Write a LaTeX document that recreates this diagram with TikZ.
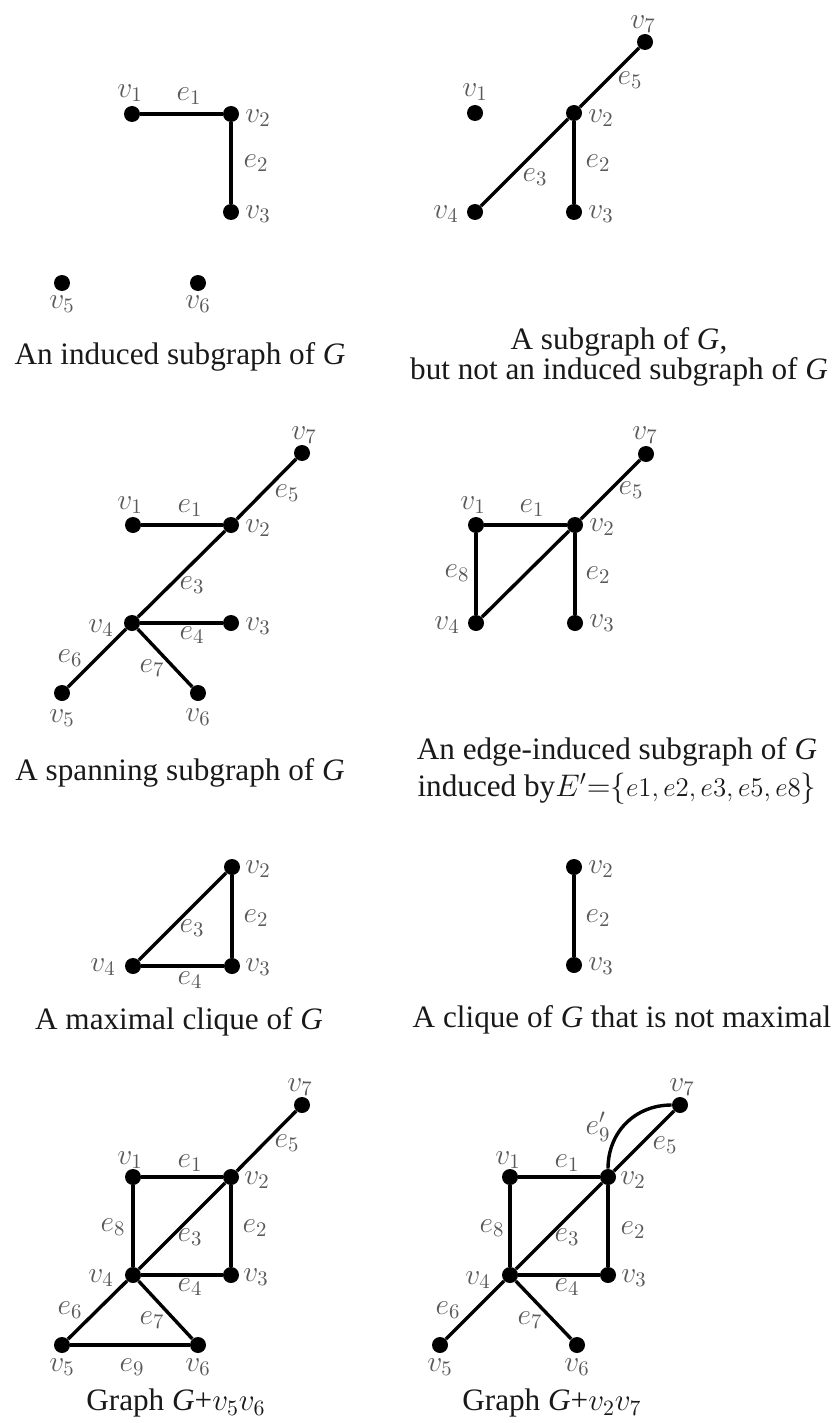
\RequirePackage{fix-cm}
\documentclass[tikz,border=0pt]{standalone}
\usepackage[no-math]{fontspec}
\setmainfont{Liberation Serif}
\tikzset{
  vtx/.style={circle, fill=black, inner sep=0pt, minimum size=8pt},
  edge/.style={line width=1.7pt},
  lab/.style={text=black!65, font=\fontsize{14.8}{16}\selectfont, inner sep=0pt},
  captxt/.style={text=black!90, font=\fontsize{15.6}{15}\selectfont, inner sep=0pt, align=center},
}
\begin{document}
\begin{tikzpicture}[x=0.5pt, y=-0.5pt]
\useasboundingbox (0,0) rectangle (836,1423);
% ---------- Panel 1: induced subgraph
\node[vtx] (a1) at (132,114) {};
\node[vtx] (a2) at (231,114) {};
\node[vtx] (a3) at (231,212) {};
\node[vtx] (a5) at (62,283) {};
\node[vtx] (a6) at (198,283) {};
\draw[edge] (a1) -- (a2);
\draw[edge] (a2) -- (a3);
\node[lab] (a1l) at (130,93) {$v_1$};
\node[lab] (ae1) at (189,96) {$e_1$};
\node[lab] (a2l) at (258,118) {$v_2$};
\node[lab] (ae2) at (256,163) {$e_2$};
\node[lab] (a3l) at (258,214) {$v_3$};
\node[lab] (a5l) at (62,304) {$v_5$};
\node[lab] (a6l) at (198,304) {$v_6$};
\node[captxt] (acap) at (180,357) {An induced subgraph of \textit{G}};
% ---------- Panel 2: subgraph, not induced
\node[vtx] (b7) at (645,42) {};
\node[vtx] (b1) at (475,113) {};
\node[vtx] (b2) at (574,113) {};
\node[vtx] (b4) at (475,212) {};
\node[vtx] (b3) at (574,212) {};
\draw[edge] (b4) -- (b2);
\draw[edge] (b2) -- (b7);
\draw[edge] (b2) -- (b3);
\node[lab] (b7l) at (643,24) {$v_7$};
\node[lab] (b1l) at (475,92) {$v_1$};
\node[lab] (be5) at (630,80) {$e_5$};
\node[lab] (b2l) at (601,118) {$v_2$};
\node[lab] (be2) at (598,163) {$e_2$};
\node[lab] (be3) at (535,177) {$e_3$};
\node[lab] (b4l) at (446,214) {$v_4$};
\node[lab] (b3l) at (601,214) {$v_3$};
\node[captxt] (bcap) at (619,357) {A subgraph of \textit{G},\\but not an induced subgraph of \textit{G}};
% ---------- Panel 3: spanning subgraph
\node[vtx] (c7) at (302,453) {};
\node[vtx] (c1) at (133,525) {};
\node[vtx] (c2) at (231,525) {};
\node[vtx] (c4) at (132,623) {};
\node[vtx] (c3) at (231,623) {};
\node[vtx] (c5) at (62,693) {};
\node[vtx] (c6) at (198,693) {};
\draw[edge] (c1) -- (c2);
\draw[edge] (c2) -- (c7);
\draw[edge] (c2) -- (c4);
\draw[edge] (c4) -- (c3);
\draw[edge] (c4) -- (c5);
\draw[edge] (c4) -- (c6);
\node[lab] (c7l) at (304,435) {$v_7$};
\node[lab] (c1l) at (130,505) {$v_1$};
\node[lab] (ce1) at (190,508) {$e_1$};
\node[lab] (ce5) at (287,493) {$e_5$};
\node[lab] (c2l) at (258,528) {$v_2$};
\node[lab] (ce3) at (192,585) {$e_3$};
\node[lab] (c4l) at (101,628) {$v_4$};
\node[lab] (c3l) at (258,626) {$v_3$};
\node[lab] (ce4) at (192,635) {$e_4$};
\node[lab] (ce6) at (70,658) {$e_6$};
\node[lab] (ce7) at (152,668) {$e_7$};
\node[lab] (c5l) at (62,718) {$v_5$};
\node[lab] (c6l) at (198,717) {$v_6$};
\node[captxt] (ccap) at (180,773) {A spanning subgraph of \textit{G}};
% ---------- Panel 4: edge-induced subgraph
\node[vtx] (d7) at (646,454) {};
\node[vtx] (d1) at (476,525) {};
\node[vtx] (d2) at (575,525) {};
\node[vtx] (d4) at (476,623) {};
\node[vtx] (d3) at (575,623) {};
\draw[edge] (d1) -- (d2);
\draw[edge] (d1) -- (d4);
\draw[edge] (d4) -- (d2);
\draw[edge] (d2) -- (d7);
\draw[edge] (d2) -- (d3);
\node[lab] (d7l) at (645,435) {$v_7$};
\node[lab] (de5) at (631,490) {$e_5$};
\node[lab] (d1l) at (473,505) {$v_1$};
\node[lab] (de1) at (532,508) {$e_1$};
\node[lab] (d2l) at (602,527) {$v_2$};
\node[lab] (de8) at (457,573) {$e_8$};
\node[lab] (de2) at (598,575) {$e_2$};
\node[lab] (d4l) at (447,625) {$v_4$};
\node[lab] (d3l) at (602,623) {$v_3$};
\node[captxt] (dcap) at (617,771) {An edge-induced subgraph of \textit{G}\\[2.5pt]induced by$E'{=}\{$\mbox{\fontsize{13.5}{16}\selectfont$e1, e2, e3, e5, e8$}$\}$};
% ---------- Panel 5: maximal clique
\node[vtx] (m2) at (232,867) {};
\node[vtx] (m4) at (133,966) {};
\node[vtx] (m3) at (232,966) {};
\draw[edge] (m4) -- (m2);
\draw[edge] (m2) -- (m3);
\draw[edge] (m3) -- (m4);
\node[lab] (m2l) at (258,869) {$v_2$};
\node[lab] (me2) at (256,918) {$e_2$};
\node[lab] (me3) at (192,928) {$e_3$};
\node[lab] (m4l) at (103,967) {$v_4$};
\node[lab] (m3l) at (258,967) {$v_3$};
\node[lab] (me4) at (190,980) {$e_4$};
\node[captxt] (mcap) at (179,1022) {A maximal clique of \textit{G}};
% ---------- Panel 6: non-maximal clique
\node[vtx] (n2) at (574,867) {};
\node[vtx] (n3) at (574,965) {};
\draw[edge] (n2) -- (n3);
\node[lab] (n2l) at (601,869) {$v_2$};
\node[lab] (ne2) at (598,918) {$e_2$};
\node[lab] (n3l) at (601,966) {$v_3$};
\node[captxt] (ncap) at (622,1020) {A clique of \textit{G} that is not maximal};
% ---------- Panel 7: G + v5v6
\node[vtx] (g7) at (302,1105) {};
\node[vtx] (g1) at (133,1177) {};
\node[vtx] (g2) at (231,1177) {};
\node[vtx] (g4) at (133,1275) {};
\node[vtx] (g3) at (231,1275) {};
\node[vtx] (g5) at (62,1345) {};
\node[vtx] (g6) at (198,1345) {};
\draw[edge] (g1) -- (g2);
\draw[edge] (g1) -- (g4);
\draw[edge] (g2) -- (g3);
\draw[edge] (g4) -- (g3);
\draw[edge] (g4) -- (g2);
\draw[edge] (g2) -- (g7);
\draw[edge] (g4) -- (g5);
\draw[edge] (g4) -- (g6);
\draw[edge] (g5) -- (g6);
\node[lab] (g7l) at (300,1087) {$v_7$};
\node[lab] (ge5) at (287,1143) {$e_5$};
\node[lab] (g1l) at (130,1160) {$v_1$};
\node[lab] (ge1) at (190,1163) {$e_1$};
\node[lab] (g2l) at (257,1180) {$v_2$};
\node[lab] (ge8) at (113,1227) {$e_8$};
\node[lab] (ge3) at (190,1237) {$e_3$};
\node[lab] (ge2) at (255,1228) {$e_2$};
\node[lab] (g4l) at (101,1278) {$v_4$};
\node[lab] (g3l) at (256,1277) {$v_3$};
\node[lab] (ge4) at (190,1287) {$e_4$};
\node[lab] (ge6) at (70,1310) {$e_6$};
\node[lab] (ge7) at (152,1320) {$e_7$};
\node[lab] (g5l) at (62,1367) {$v_5$};
\node[lab] (ge9) at (132,1367) {$e_9$};
\node[lab] (g6l) at (198,1367) {$v_6$};
\node[captxt] (gcap) at (176,1403) {Graph \textit{G}+$v_5v_6$};
% ---------- Panel 8: G + v2v7
\node[vtx] (h7) at (680,1105) {};
\node[vtx] (h1) at (510,1177) {};
\node[vtx] (h2) at (608,1177) {};
\node[vtx] (h4) at (510,1275) {};
\node[vtx] (h3) at (608,1275) {};
\node[vtx] (h5) at (440,1345) {};
\node[vtx] (h6) at (577,1345) {};
\draw[edge] (h1) -- (h2);
\draw[edge] (h1) -- (h4);
\draw[edge] (h2) -- (h3);
\draw[edge] (h4) -- (h3);
\draw[edge] (h4) -- (h2);
\draw[edge] (h2) -- (h7);
\draw[edge] (h4) -- (h5);
\draw[edge] (h4) -- (h6);
\draw[edge] (h2) .. controls +(0,-45) and +(-45,0) .. (h7);
\node[lab] (h7l) at (682,1087) {$v_7$};
\node[lab] (he9) at (598,1127) {$e'_9$};
\node[lab] (he5) at (665,1145) {$e_5$};
\node[lab] (h1l) at (508,1160) {$v_1$};
\node[lab] (he1) at (567,1163) {$e_1$};
\node[lab] (h2l) at (633,1180) {$v_2$};
\node[lab] (he8) at (492,1228) {$e_8$};
\node[lab] (he3) at (567,1237) {$e_3$};
\node[lab] (he2) at (633,1230) {$e_2$};
\node[lab] (h4l) at (478,1280) {$v_4$};
\node[lab] (h3l) at (634,1278) {$v_3$};
\node[lab] (he4) at (567,1287) {$e_4$};
\node[lab] (he6) at (448,1310) {$e_6$};
\node[lab] (he7) at (530,1320) {$e_7$};
\node[lab] (h5l) at (440,1367) {$v_5$};
\node[lab] (h6l) at (577,1367) {$v_6$};
\node[captxt] (hcap) at (552,1403) {Graph \textit{G}+$v_2v_7$};
\end{tikzpicture}
\end{document}
